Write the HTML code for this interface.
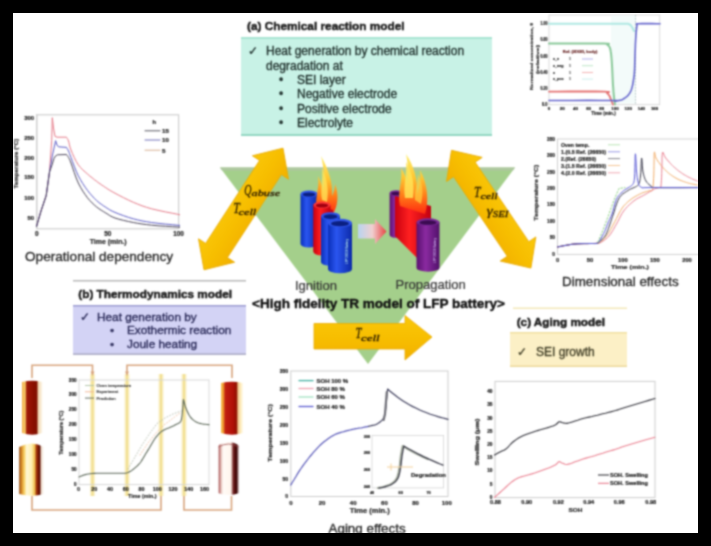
<!DOCTYPE html>
<html><head><meta charset="utf-8">
<style>
html,body{margin:0;padding:0;background:#000;}
body{width:711px;height:546px;position:relative;overflow:hidden;font-family:"Liberation Sans",sans-serif;}
svg{position:absolute;left:0;top:0;}
.t{font-family:"Liberation Sans",sans-serif;}
.s{font-family:"Liberation Serif",serif;font-style:italic;}
</style></head>
<body>

<svg width="711" height="546" viewBox="0 0 711 546">
<defs>
  <linearGradient id="arrG" x1="0" y1="0" x2="0" y2="1">
    <stop offset="0" stop-color="#fac80a"/>
    <stop offset="0.5" stop-color="#f7be00"/>
    <stop offset="1" stop-color="#f2b000"/>
  </linearGradient>
  <linearGradient id="midArr" x1="0" y1="0" x2="1" y2="0">
    <stop offset="0" stop-color="#b8d4f0"/>
    <stop offset="0.5" stop-color="#f0d0d0"/>
    <stop offset="1" stop-color="#e84040"/>
  </linearGradient>
  <linearGradient id="blueCyl" x1="0" y1="0" x2="1" y2="0">
    <stop offset="0" stop-color="#0a2fb8"/>
    <stop offset="0.35" stop-color="#2a55f0"/>
    <stop offset="1" stop-color="#0c2aa8"/>
  </linearGradient>
  <linearGradient id="redCyl" x1="0" y1="0" x2="1" y2="0">
    <stop offset="0" stop-color="#c80010"/>
    <stop offset="0.4" stop-color="#ff2020"/>
    <stop offset="1" stop-color="#c00010"/>
  </linearGradient>
  <linearGradient id="purCyl" x1="0" y1="0" x2="1" y2="0">
    <stop offset="0" stop-color="#5a1070"/>
    <stop offset="0.4" stop-color="#8a2aa0"/>
    <stop offset="1" stop-color="#50106a"/>
  </linearGradient>
  <linearGradient id="flame" x1="0" y1="1" x2="0" y2="0">
    <stop offset="0" stop-color="#ff2a10"/>
    <stop offset="0.3" stop-color="#ff7a18"/>
    <stop offset="0.6" stop-color="#ffc430"/>
    <stop offset="1" stop-color="#fff070"/>
  </linearGradient>
  <filter id="soft" x="0" y="0" width="711" height="546" filterUnits="userSpaceOnUse" color-interpolation-filters="sRGB">
    <feConvolveMatrix order="5" kernelMatrix="0.00087 0.00695 0.01388 0.00695 0.00087 0.00695 0.05540 0.11068 0.05540 0.00695 0.01388 0.11068 0.22111 0.11068 0.01388 0.00695 0.05540 0.11068 0.05540 0.00695 0.00087 0.00695 0.01388 0.00695 0.00087" divisor="1" edgeMode="duplicate" preserveAlpha="true"/>
  </filter>
</defs>

<g filter="url(#soft)">
<rect x="0" y="0" width="711" height="546" fill="#fff"/>
<!-- ===== Triangle ===== -->
<polygon points="220,167.6 515,167.6 368,364" fill="#a4cf8b"/>
<polygon points="220,167.6 515,167.6 513,170.6 222,170.6" fill="#adc69f"/>

<!-- ===== (a) Chemical reaction model ===== -->
<text x="247" y="30" class="t" font-size="11.8" font-weight="bold" fill="#1a1a1a" stroke="#1a1a1a" stroke-width="0.45" textLength="157.5" lengthAdjust="spacingAndGlyphs">(a) Chemical reaction model</text>
<rect x="241" y="37" width="251" height="99" fill="#c8f2e6"/>
<rect x="241" y="37" width="251" height="2" fill="#a8e4d2"/>
<rect x="241" y="134" width="251" height="2" fill="#92d6c2"/>
<g class="t" font-size="12" fill="#22332f" stroke="#22332f" stroke-width="0.35">
  <text x="248" y="55">&#10003;</text>
  <text x="266" y="55">Heat generation by chemical reaction</text>
  <text x="266" y="70">degradation at</text>
  <text x="279" y="84">&#8226;</text><text x="297" y="84">SEI layer</text>
  <text x="279" y="98">&#8226;</text><text x="297" y="98">Negative electrode</text>
  <text x="279" y="112.5">&#8226;</text><text x="297" y="112.5">Positive electrode</text>
  <text x="279" y="126.5">&#8226;</text><text x="297" y="126.5">Electrolyte</text>
</g>

<!-- ===== (b) Thermodynamics model ===== -->
<rect x="73" y="280" width="173" height="1.5" fill="#b8b8b8"/>
<text x="78.3" y="298" class="t" font-size="11.6" font-weight="bold" fill="#1a1a1a" stroke="#1a1a1a" stroke-width="0.45" textLength="153.7" lengthAdjust="spacingAndGlyphs">(b) Thermodynamics model</text>
<rect x="73" y="305" width="173" height="50" fill="#d3d3f5"/>
<rect x="73" y="305" width="173" height="1.5" fill="#9c9cd0"/>
<rect x="73" y="353.3" width="173" height="1.7" fill="#b0b0c8"/>
<g class="t" font-size="11.8" fill="#2a2a58" stroke="#2a2a58" stroke-width="0.35">
  <text x="80" y="320.5">&#10003;</text>
  <text x="97" y="320.5">Heat generation by</text>
  <text x="110" y="334">&#8226;</text><text x="127" y="334">Exothermic reaction</text>
  <text x="110" y="348">&#8226;</text><text x="127" y="348">Joule heating</text>
</g>

<!-- ===== (c) Aging model ===== -->
<rect x="513" y="307.5" width="114" height="1.5" fill="#f3e8b8"/>
<text x="516.7" y="325.5" class="t" font-size="11.5" font-weight="bold" fill="#1a1a1a" stroke="#1a1a1a" stroke-width="0.45" textLength="88.3" lengthAdjust="spacingAndGlyphs">(c) Aging model</text>
<rect x="510" y="332" width="117" height="35" fill="#fcf0c6"/>
<rect x="510" y="332" width="117" height="1.5" fill="#f1dfa0"/>
<rect x="510" y="365.5" width="117" height="1.5" fill="#ecd89a"/>
<g class="t" font-size="12" fill="#45422a" stroke="#45422a" stroke-width="0.35">
  <text x="517" y="355.5">&#10003;</text>
  <text x="536" y="355.5">SEI growth</text>
</g>

<!-- ===== Arrows ===== -->
<g transform="translate(243.5,209) rotate(-57)">
  <path d="M-72.5,0 L-49.5,-21.5 L-49.5,-13 L49.5,-13 L49.5,-21.5 L72.5,0 L49.5,21.5 L49.5,13 L-49.5,13 L-49.5,21.5 Z" fill="url(#arrG)" stroke="#e8aa00" stroke-width="0.8"/>
</g>
<g transform="translate(491.2,209.2) rotate(56)">
  <path d="M-71,0 L-48,-21.5 L-48,-13 L48,-13 L48,-21.5 L71,0 L48,21.5 L48,13 L-48,13 L-48,21.5 Z" fill="url(#arrG)" stroke="#e8aa00" stroke-width="0.8"/>
</g>
<path d="M314,323.5 L405,323.5 L405,315.5 L432,337 L405,360 L405,349 L314,349 Z" fill="url(#arrG)" stroke="#e8aa00" stroke-width="0.8"/>

<!-- arrow labels -->
<g class="s" fill="#2e1e00" font-weight="normal" stroke="#2e1e00" stroke-width="0.3">
  <text x="244.3" y="194.5" font-size="15" textLength="7.2" lengthAdjust="spacingAndGlyphs">Q</text><text x="251.6" y="196" font-size="8" textLength="28.5" lengthAdjust="spacingAndGlyphs">abuse</text>
  <text x="233.3" y="212.8" font-size="14.5" textLength="6.5" lengthAdjust="spacingAndGlyphs">T</text><text x="238.5" y="215" font-size="8" textLength="17.8" lengthAdjust="spacingAndGlyphs">cell</text>
  <text x="474" y="197.2" font-size="14.5" textLength="6.5" lengthAdjust="spacingAndGlyphs">T</text><text x="480.4" y="199" font-size="8" textLength="17.3" lengthAdjust="spacingAndGlyphs">cell</text>
  <text x="486.8" y="215" font-size="13" textLength="6" lengthAdjust="spacingAndGlyphs">&#947;</text><text x="492.8" y="217" font-size="9" textLength="15.6" lengthAdjust="spacingAndGlyphs">SEI</text>
  <text x="355.6" y="337.6" font-size="14.5" textLength="6" lengthAdjust="spacingAndGlyphs">T</text><text x="361" y="340.8" font-size="8" textLength="18.7" lengthAdjust="spacingAndGlyphs">cell</text>
</g>

<!-- ===== Center labels ===== -->
<text x="295" y="289.5" class="t" font-size="13" fill="#333" stroke="#333" stroke-width="0.2">Ignition</text>
<text x="395.5" y="289" class="t" font-size="13" fill="#333" stroke="#333" stroke-width="0.2">Propagation</text>
<text x="252" y="308" class="t" font-size="13.3" font-weight="bold" fill="#111" stroke="#111" stroke-width="0.4" textLength="253" lengthAdjust="spacingAndGlyphs">&lt;High fidelity TR model of LFP battery&gt;</text>

<!-- ===== Bottom text labels ===== -->
<g id="c1">
<rect x="36.8" y="114.8" width="141.8" height="114" fill="none" stroke="#cfcfcf" stroke-width="1.2"/>
<line x1="36.8" y1="114.5" x2="36.8" y2="228.8" stroke="#bbb" stroke-width="0.8" stroke-dasharray="1,1"/>
<text x="34.2" y="120.2" font-size="6" text-anchor="end" fill="#1e1e1e" stroke="#1e1e1e" stroke-width="0.22" font-weight="bold" class="t" >300</text>
<text x="34.2" y="139.7" font-size="6" text-anchor="end" fill="#1e1e1e" stroke="#1e1e1e" stroke-width="0.22" font-weight="bold" class="t" >250</text>
<text x="34.2" y="159.7" font-size="6" text-anchor="end" fill="#1e1e1e" stroke="#1e1e1e" stroke-width="0.22" font-weight="bold" class="t" >200</text>
<text x="34.2" y="179.2" font-size="6" text-anchor="end" fill="#1e1e1e" stroke="#1e1e1e" stroke-width="0.22" font-weight="bold" class="t" >150</text>
<text x="34.2" y="199.7" font-size="6" text-anchor="end" fill="#1e1e1e" stroke="#1e1e1e" stroke-width="0.22" font-weight="bold" class="t" >100</text>
<text x="34.2" y="220.2" font-size="6" text-anchor="end" fill="#1e1e1e" stroke="#1e1e1e" stroke-width="0.22" font-weight="bold" class="t" >50</text>
<text x="18.3" y="163.6" font-size="5.6" text-anchor="middle" fill="#2a2a2a" stroke="#2a2a2a" stroke-width="0.22" font-weight="bold" class="t" transform="rotate(-90 18.3 163.6)" textLength="50" lengthAdjust="spacingAndGlyphs">Temperature (°C)</text>
<text x="36.8" y="236.3" font-size="6.4" text-anchor="middle" fill="#1e1e1e" stroke="#1e1e1e" stroke-width="0.22" font-weight="bold" class="t" >0</text>
<text x="107.7" y="236.3" font-size="6.4" text-anchor="middle" fill="#1e1e1e" stroke="#1e1e1e" stroke-width="0.22" font-weight="bold" class="t" >50</text>
<text x="178.6" y="236.3" font-size="6.4" text-anchor="middle" fill="#1e1e1e" stroke="#1e1e1e" stroke-width="0.22" font-weight="bold" class="t" >100</text>
<text x="108.2" y="244" font-size="6.6" text-anchor="middle" fill="#2a2a2a" stroke="#2a2a2a" stroke-width="0.22" font-weight="bold" class="t" textLength="37" lengthAdjust="spacingAndGlyphs">Time (min.)</text>
<polyline points="36.5,226.5 41.0,211.0 46.2,195.6 49.5,172.0 51.7,140.7 52.3,117.7 53.5,128.0 55.0,136.3 57.0,137.2 66.5,137.2 66.8,137.8 67.3,138.5 67.9,139.6 68.5,141.0 69.0,142.7 69.4,144.8 70.0,147.2 71.0,150.0 72.4,153.4 74.2,157.4 76.2,161.4 78.3,164.8 80.5,167.5 82.8,169.9 85.2,172.0 87.5,174.0 89.8,176.0 92.1,177.8 94.3,179.6 96.6,181.3 98.9,183.0 101.2,184.6 103.5,186.2 105.8,187.7 107.9,189.1 109.8,190.3 112.1,191.6 115.0,193.2 118.9,195.3 123.6,197.7 128.5,200.1 133.3,202.3 137.7,204.1 142.0,205.8 146.5,207.3 151.6,208.8 158.0,210.3 165.4,211.9 172.3,213.2 177.2,214.2 179.5,214.7 179.9,214.7 179.6,214.6 179.5,214.6" fill="none" stroke="#e57a88" stroke-width="1.0" stroke-linejoin="round" stroke-linecap="round" />
<polyline points="36.5,226.5 41.0,211.0 46.2,195.6 49.5,172.0 52.5,155.0 55.6,140.7 57.0,145.0 58.5,146.8 66.5,147.4 66.8,148.0 67.3,148.8 67.9,149.8 68.5,151.0 69.0,152.1 69.4,153.3 70.0,155.0 71.0,157.5 72.4,161.3 74.2,166.1 76.2,171.2 78.3,175.8 80.5,179.8 82.8,183.6 85.2,187.2 87.5,190.4 89.8,193.3 92.1,195.9 94.3,198.3 96.6,200.5 98.9,202.5 101.2,204.2 103.5,205.8 105.8,207.3 107.9,208.7 109.8,209.9 112.1,211.1 115.0,212.4 118.9,214.0 123.6,215.7 128.5,217.4 133.3,218.8 137.7,219.9 142.0,220.9 146.5,221.7 151.6,222.5 158.0,223.3 165.4,224.1 172.3,224.7 177.2,225.2 179.5,225.4 179.9,225.5 179.6,225.4 179.5,225.4" fill="none" stroke="#5c5cc4" stroke-width="1.0" stroke-linejoin="round" stroke-linecap="round" />
<polyline points="36.5,226.5 41.0,211.0 46.2,195.6 49.5,172.0 52.0,165.0 54.0,158.5 55.5,156.0 57.5,154.8 66.5,154.5 66.8,155.0 67.3,155.7 67.9,156.5 68.5,157.5 69.0,158.4 69.4,159.2 70.0,160.5 71.0,163.0 72.4,167.1 74.2,172.4 76.2,178.0 78.3,183.0 80.5,187.2 82.8,191.1 85.2,194.6 87.5,197.8 89.8,200.5 92.1,202.9 94.3,205.0 96.6,206.9 98.9,208.7 101.2,210.2 103.5,211.6 105.8,213.0 107.9,214.3 109.8,215.6 112.1,216.8 115.0,218.0 118.9,219.2 123.6,220.4 128.5,221.5 133.3,222.5 137.7,223.3 142.0,224.0 146.5,224.6 151.6,225.2 158.0,225.8 165.4,226.3 172.3,226.7 177.2,227.0 179.5,227.2 179.9,227.2 179.6,227.2 179.5,227.2" fill="none" stroke="#4a4458" stroke-width="1.0" stroke-linejoin="round" stroke-linecap="round" />
<text x="154.3" y="124.3" font-size="6" text-anchor="middle" fill="#1e1e1e" stroke="#1e1e1e" stroke-width="0.22" font-weight="bold" class="t" >h</text>
<line x1="144.6" y1="130.8" x2="160.4" y2="130.8" stroke="#555560" stroke-width="1.0"/>
<text x="162" y="133.10000000000002" font-size="6.2" text-anchor="start" fill="#1e1e1e" stroke="#1e1e1e" stroke-width="0.22" font-weight="bold" class="t" >15</text>
<line x1="144.6" y1="140" x2="160.4" y2="140" stroke="#7070b8" stroke-width="1.0"/>
<text x="162" y="142.3" font-size="6.2" text-anchor="start" fill="#1e1e1e" stroke="#1e1e1e" stroke-width="0.22" font-weight="bold" class="t" >10</text>
<line x1="144.6" y1="150.2" x2="160.4" y2="150.2" stroke="#d8b090" stroke-width="1.0"/>
<text x="162" y="152.5" font-size="6.2" text-anchor="start" fill="#1e1e1e" stroke="#1e1e1e" stroke-width="0.22" font-weight="bold" class="t" >5</text>
</g>
<g id="c2">
<rect x="549" y="15" width="110.7" height="89.7" fill="none" stroke="#d0d0d0" stroke-width="0.8"/>
<text x="547.5" y="25.1" font-size="4.6" text-anchor="end" fill="#1a1a1a" stroke="#1a1a1a" stroke-width="0.22" font-weight="bold" class="t" textLength="7" lengthAdjust="spacingAndGlyphs">1.00</text>
<text x="547.5" y="41.2" font-size="4.6" text-anchor="end" fill="#1a1a1a" stroke="#1a1a1a" stroke-width="0.22" font-weight="bold" class="t" textLength="7" lengthAdjust="spacingAndGlyphs">0.80</text>
<text x="547.5" y="57.6" font-size="4.6" text-anchor="end" fill="#1a1a1a" stroke="#1a1a1a" stroke-width="0.22" font-weight="bold" class="t" textLength="7" lengthAdjust="spacingAndGlyphs">0.60</text>
<text x="547.5" y="73.6" font-size="4.6" text-anchor="end" fill="#1a1a1a" stroke="#1a1a1a" stroke-width="0.22" font-weight="bold" class="t" textLength="7" lengthAdjust="spacingAndGlyphs">0.40</text>
<text x="547.5" y="89.6" font-size="4.6" text-anchor="end" fill="#1a1a1a" stroke="#1a1a1a" stroke-width="0.22" font-weight="bold" class="t" textLength="7" lengthAdjust="spacingAndGlyphs">0.20</text>
<text x="547.5" y="105.6" font-size="4.6" text-anchor="end" fill="#1a1a1a" stroke="#1a1a1a" stroke-width="0.22" font-weight="bold" class="t" textLength="5.5" lengthAdjust="spacingAndGlyphs">0.0</text>
<text x="549.0" y="110" font-size="4.4" text-anchor="middle" fill="#1e1e1e" stroke="#1e1e1e" stroke-width="0.22" font-weight="bold" class="t" >0</text>
<text x="562.2" y="110" font-size="4.4" text-anchor="middle" fill="#1e1e1e" stroke="#1e1e1e" stroke-width="0.22" font-weight="bold" class="t" >20</text>
<text x="575.4" y="110" font-size="4.4" text-anchor="middle" fill="#1e1e1e" stroke="#1e1e1e" stroke-width="0.22" font-weight="bold" class="t" >40</text>
<text x="588.6" y="110" font-size="4.4" text-anchor="middle" fill="#1e1e1e" stroke="#1e1e1e" stroke-width="0.22" font-weight="bold" class="t" >60</text>
<text x="601.8" y="110" font-size="4.4" text-anchor="middle" fill="#1e1e1e" stroke="#1e1e1e" stroke-width="0.22" font-weight="bold" class="t" >80</text>
<text x="615.0" y="110" font-size="4.4" text-anchor="middle" fill="#1e1e1e" stroke="#1e1e1e" stroke-width="0.22" font-weight="bold" class="t" >100</text>
<text x="628.2" y="110" font-size="4.4" text-anchor="middle" fill="#1e1e1e" stroke="#1e1e1e" stroke-width="0.22" font-weight="bold" class="t" >120</text>
<text x="641.4" y="110" font-size="4.4" text-anchor="middle" fill="#1e1e1e" stroke="#1e1e1e" stroke-width="0.22" font-weight="bold" class="t" >140</text>
<text x="654.6" y="110" font-size="4.4" text-anchor="middle" fill="#1e1e1e" stroke="#1e1e1e" stroke-width="0.22" font-weight="bold" class="t" >160</text>
<text x="603.5" y="115" font-size="4.6" text-anchor="middle" fill="#2a2a2a" stroke="#2a2a2a" stroke-width="0.22" font-weight="bold" class="t" >Time (min.)</text>
<text x="532.5" y="56.5" font-size="4.4" text-anchor="middle" fill="#333" stroke="#333" stroke-width="0.22" font-weight="bold" class="t" transform="rotate(-90 532.5 56.5)" textLength="67" lengthAdjust="spacingAndGlyphs">Normalized concentration, θ</text>
<text x="538.6" y="59.5" font-size="4.4" text-anchor="middle" fill="#333" stroke="#333" stroke-width="0.22" font-weight="bold" class="t" transform="rotate(-90 538.6 59.5)" textLength="29" lengthAdjust="spacingAndGlyphs">(relative)</text>
<rect x="611" y="15.5" width="25" height="88" fill="#f3fbfa"/>
<line x1="635.5" y1="15" x2="635.5" y2="104.7" stroke="#9aa" stroke-width="0.7" stroke-dasharray="1.5,1.5"/>
<polyline points="549.0,23.7 628.0,23.7 630.5,25.0 632.6,28.0 634.0,31.0" fill="none" stroke="#aee8e2" stroke-width="2.0" stroke-linejoin="round" stroke-linecap="round" />
<polyline points="549.0,43.6 557.3,43.6 569.5,43.6 583.1,43.5 595.4,43.5 604.0,43.6 607.9,43.7 609.0,43.8 608.3,44.0 607.3,44.2 607.0,44.5 607.5,44.8 608.1,45.2 608.6,45.7 609.1,46.3 609.5,47.0 609.9,47.9 610.2,48.9 610.5,50.0 610.7,51.4 611.0,53.0 611.2,54.9 611.4,57.0 611.6,59.3 611.8,62.0 612.0,65.0 612.2,68.6 612.4,72.7 612.6,77.0 612.8,81.2 613.0,85.0 613.3,88.5 613.5,91.9 613.8,95.0 614.1,97.8 614.3,100.0 614.5,101.6 614.7,102.8 614.8,103.5 614.9,104.1 615.0,104.5" fill="none" stroke="#88c898" stroke-width="2.0" stroke-linejoin="round" stroke-linecap="round" />
<polyline points="549.0,91.6 557.3,91.6 569.5,91.5 583.1,91.5 595.4,91.5 604.0,91.6 607.9,91.8 609.0,92.0 608.3,92.3 607.3,92.6 607.0,93.0 607.5,93.5 608.1,94.0 608.5,94.5 609.0,95.2 609.5,96.0 610.0,97.0 610.4,98.1 610.9,99.4 611.3,100.5 611.7,101.5 612.0,102.3 612.3,103.0 612.6,103.6 612.8,104.1 613.0,104.5" fill="none" stroke="#e47070" stroke-width="1.8" stroke-linejoin="round" stroke-linecap="round" />
<polyline points="549.0,100.5 558.5,100.5 572.5,100.5 588.1,100.4 602.2,100.5 612.0,100.5 616.4,100.6 617.5,100.8 616.7,101.0 615.4,101.1 615.0,101.2 615.6,101.2 616.2,101.1 616.7,100.9 617.3,100.8 618.0,100.6 618.7,100.5 619.5,100.4 620.3,100.3 621.1,100.1 622.0,99.7 623.0,99.2 624.1,98.5 625.3,97.7 626.4,96.9 627.4,96.0 628.3,95.1 629.0,94.1 629.8,93.0 630.4,91.8 631.0,90.6 631.5,89.3 631.9,87.9 632.3,86.4 632.7,84.8 633.0,83.0 633.3,81.2 633.6,79.2 633.9,77.1 634.2,74.9 634.4,72.3 634.6,69.4 634.7,66.2 634.8,62.8 634.9,59.3 635.0,55.8 635.1,52.2 635.3,48.3 635.4,44.4 635.6,40.8 635.8,37.5 636.0,34.6 636.2,31.8 636.5,29.3 636.7,27.2 637.0,25.6 636.9,24.5 636.6,24.0 636.4,23.8 636.8,23.8 638.4,23.7 641.8,23.6 646.6,23.6 651.9,23.6 656.7,23.7 660.0,23.7" fill="none" stroke="#6464cc" stroke-width="1.6" stroke-linejoin="round" stroke-linecap="round" />
<text x="580" y="53" font-size="4" text-anchor="middle" fill="#6a2828" stroke="#6a2828" stroke-width="0.22" font-weight="bold" class="t" >Ref. (2D/3D, body)</text>
<text x="553" y="60.2" font-size="3.6" text-anchor="start" fill="#2a2a2a" stroke="#2a2a2a" stroke-width="0.22" font-weight="bold" class="t" >c_e</text>
<text x="569" y="60.2" font-size="3.6" text-anchor="start" fill="#666" stroke="#666" stroke-width="0.22" font-weight="bold" class="t" >1</text>
<line x1="582" y1="59.0" x2="593" y2="59.0" stroke="#3a3ad0" stroke-width="0.8" opacity="0.5"/>
<text x="553" y="66.9" font-size="3.6" text-anchor="start" fill="#2a2a2a" stroke="#2a2a2a" stroke-width="0.22" font-weight="bold" class="t" >c_neg</text>
<text x="569" y="66.9" font-size="3.6" text-anchor="start" fill="#666" stroke="#666" stroke-width="0.22" font-weight="bold" class="t" >1</text>
<line x1="582" y1="65.7" x2="593" y2="65.7" stroke="#56c070" stroke-width="0.8" opacity="0.5"/>
<text x="553" y="73.60000000000001" font-size="3.6" text-anchor="start" fill="#2a2a2a" stroke="#2a2a2a" stroke-width="0.22" font-weight="bold" class="t" >c</text>
<text x="569" y="73.60000000000001" font-size="3.6" text-anchor="start" fill="#666" stroke="#666" stroke-width="0.22" font-weight="bold" class="t" >1</text>
<line x1="582" y1="72.4" x2="593" y2="72.4" stroke="#e03030" stroke-width="0.8" opacity="0.5"/>
<text x="553" y="80.3" font-size="3.6" text-anchor="start" fill="#2a2a2a" stroke="#2a2a2a" stroke-width="0.22" font-weight="bold" class="t" >c_pos</text>
<text x="569" y="80.3" font-size="3.6" text-anchor="start" fill="#666" stroke="#666" stroke-width="0.22" font-weight="bold" class="t" >1</text>
<line x1="582" y1="79.1" x2="593" y2="79.1" stroke="#7fd6d0" stroke-width="0.8" opacity="0.5"/>
</g>
<g id="c3">
<rect x="557.5" y="139" width="150" height="115.4" fill="none" stroke="#cccccc" stroke-width="0.9"/>
<text x="555" y="140.7" font-size="4.8" text-anchor="end" fill="#1e1e1e" stroke="#1e1e1e" stroke-width="0.22" font-weight="bold" class="t" >350</text>
<text x="555" y="157.2" font-size="4.8" text-anchor="end" fill="#1e1e1e" stroke="#1e1e1e" stroke-width="0.22" font-weight="bold" class="t" >300</text>
<text x="555" y="173.7" font-size="4.8" text-anchor="end" fill="#1e1e1e" stroke="#1e1e1e" stroke-width="0.22" font-weight="bold" class="t" >250</text>
<text x="555" y="190.0" font-size="4.8" text-anchor="end" fill="#1e1e1e" stroke="#1e1e1e" stroke-width="0.22" font-weight="bold" class="t" >200</text>
<text x="555" y="206.2" font-size="4.8" text-anchor="end" fill="#1e1e1e" stroke="#1e1e1e" stroke-width="0.22" font-weight="bold" class="t" >150</text>
<text x="555" y="222.7" font-size="4.8" text-anchor="end" fill="#1e1e1e" stroke="#1e1e1e" stroke-width="0.22" font-weight="bold" class="t" >100</text>
<text x="555" y="239.39999999999998" font-size="4.8" text-anchor="end" fill="#1e1e1e" stroke="#1e1e1e" stroke-width="0.22" font-weight="bold" class="t" >50</text>
<text x="555" y="255.7" font-size="4.8" text-anchor="end" fill="#1e1e1e" stroke="#1e1e1e" stroke-width="0.22" font-weight="bold" class="t" >0</text>
<text x="557.5" y="261.5" font-size="5.8" text-anchor="middle" fill="#1e1e1e" stroke="#1e1e1e" stroke-width="0.22" font-weight="bold" class="t" >0</text>
<text x="590" y="261.5" font-size="5.8" text-anchor="middle" fill="#1e1e1e" stroke="#1e1e1e" stroke-width="0.22" font-weight="bold" class="t" >50</text>
<text x="622.8" y="261.5" font-size="5.8" text-anchor="middle" fill="#1e1e1e" stroke="#1e1e1e" stroke-width="0.22" font-weight="bold" class="t" >100</text>
<text x="654.8" y="261.5" font-size="5.8" text-anchor="middle" fill="#1e1e1e" stroke="#1e1e1e" stroke-width="0.22" font-weight="bold" class="t" >150</text>
<text x="687" y="261.5" font-size="5.8" text-anchor="middle" fill="#1e1e1e" stroke="#1e1e1e" stroke-width="0.22" font-weight="bold" class="t" >200</text>
<text x="630" y="268.5" font-size="6.2" text-anchor="middle" fill="#2a2a2a" stroke="#2a2a2a" stroke-width="0.22" font-weight="bold" class="t" textLength="38" lengthAdjust="spacingAndGlyphs">Time (min.)</text>
<text x="537.8" y="192.7" font-size="5.6" text-anchor="middle" fill="#2a2a2a" stroke="#2a2a2a" stroke-width="0.22" font-weight="bold" class="t" transform="rotate(-90 537.8 192.7)" textLength="56" lengthAdjust="spacingAndGlyphs">Temperature (°C)</text>
<polyline points="557.5,247.0 558.5,246.8 559.8,246.5 561.5,246.2 563.2,245.8 565.0,245.5 566.8,245.2 568.6,244.9 570.5,244.5 572.6,244.2 575.0,244.0 577.8,243.8 581.0,243.7 584.3,243.6 587.4,243.6 590.0,243.5 592.0,243.5 593.5,243.5 594.8,243.5 595.9,243.4 597.0,243.3 598.0,243.1 598.7,242.9 599.4,242.7 600.1,242.2 601.0,241.5 602.1,240.5 603.4,239.4 604.8,238.0 606.2,236.4 607.6,234.5 609.0,232.3 610.5,229.7 612.0,226.9 613.5,224.0 615.0,221.3 616.4,218.6 617.8,215.8 619.2,213.0 620.7,210.4 622.2,208.0 623.8,205.9 625.5,204.1 627.3,202.4 629.1,200.8 631.0,199.3 633.0,197.9 635.1,196.6 637.3,195.4 639.4,194.3 641.3,193.4 643.1,192.6 644.8,192.1 646.3,191.6 647.8,191.2 649.0,190.8 650.0,190.7 650.8,190.8 651.5,190.9 652.0,190.6 652.5,189.5 652.9,187.6 653.2,185.0 653.4,182.0 653.6,178.6 653.8,175.0 653.9,170.6 654.0,165.3 654.1,159.9 654.1,155.4 654.3,152.6 654.5,151.9 654.7,152.7 655.0,154.3 655.4,156.3 656.0,158.0 656.8,159.4 657.8,161.0 659.0,162.6 660.1,164.2 661.2,165.6 662.3,166.9 663.4,168.1 664.4,169.2 665.5,170.2 666.5,171.3 667.5,172.2 668.6,173.1 669.6,173.9 670.7,174.7 671.8,175.5 672.8,176.2 673.9,176.9 674.9,177.5 676.0,178.1 677.0,178.7 678.0,179.2 679.1,179.7 680.1,180.2 681.2,180.6 682.2,181.0 683.3,181.4 684.4,181.8 685.4,182.1 686.5,182.5 687.5,182.8 688.5,183.1 689.6,183.4 690.6,183.6 691.7,183.9 692.8,184.1 693.9,184.3 695.1,184.6 696.3,184.8 697.3,185.0 698.0,185.1" fill="none" stroke="#f2ac68" stroke-width="1.0" stroke-linejoin="round" stroke-linecap="round" />
<polyline points="557.5,247.0 558.5,246.8 559.8,246.5 561.5,246.2 563.2,245.8 565.0,245.5 566.8,245.2 568.6,244.9 570.5,244.5 572.6,244.2 575.0,244.0 577.8,243.8 581.0,243.7 584.3,243.6 587.4,243.6 590.0,243.5 592.0,243.5 593.5,243.5 594.8,243.4 595.9,243.4 597.0,243.3 598.0,243.2 598.8,243.1 599.6,242.9 600.4,242.6 601.5,242.0 602.8,241.2 604.3,240.2 605.9,239.0 607.5,237.6 609.0,236.0 610.5,234.0 612.0,231.8 613.5,229.3 614.9,226.7 616.4,224.2 617.8,221.6 619.2,218.9 620.6,216.1 622.0,213.5 623.7,211.0 625.5,208.7 627.5,206.5 629.6,204.5 631.8,202.6 634.0,200.8 636.3,199.2 638.7,197.8 641.2,196.6 643.5,195.4 645.7,194.2 647.7,193.0 649.6,191.8 651.4,190.7 653.1,189.8 654.5,189.0 655.7,188.5 656.7,188.2 657.6,188.0 658.3,187.8 659.0,187.6 659.6,187.5 660.0,187.7 660.4,187.7 660.7,187.2 661.0,186.0 661.2,183.7 661.4,180.7 661.6,177.2 661.7,173.5 661.8,170.0 661.9,166.3 662.0,162.1 662.0,158.1 662.2,154.7 662.4,152.6 662.8,152.1 663.2,152.8 663.8,154.1 664.4,155.7 665.0,157.0 665.7,158.0 666.5,159.0 667.4,160.0 668.3,161.1 669.1,162.0 670.0,162.9 670.8,163.8 671.6,164.7 672.4,165.5 673.2,166.3 674.1,167.0 674.9,167.8 675.7,168.5 676.5,169.2 677.4,169.9 678.2,170.5 679.0,171.2 679.9,171.8 680.7,172.4 681.5,172.9 682.3,173.5 683.1,174.0 684.0,174.6 684.8,175.1 685.6,175.5 686.5,176.0 687.3,176.5 688.1,176.9 688.9,177.3 689.8,177.7 690.6,178.1 691.4,178.5 692.2,178.9 693.0,179.3 693.9,179.6 694.8,180.0 695.7,180.3 696.6,180.7 697.4,181.0 698.0,181.2" fill="none" stroke="#ea8090" stroke-width="1.0" stroke-linejoin="round" stroke-linecap="round" />
<polyline points="557.5,247.0 558.5,246.8 559.8,246.5 561.5,246.2 563.2,245.8 565.0,245.5 566.8,245.2 568.6,244.9 570.5,244.5 572.6,244.2 575.0,244.0 577.8,243.8 581.0,243.7 584.3,243.6 587.4,243.6 590.0,243.5 592.0,243.5 593.5,243.5 594.8,243.5 596.0,243.5 597.0,243.3 597.9,243.0 598.6,242.7 599.1,242.3 599.7,241.8 600.5,241.0 601.5,240.0 602.6,238.9 603.8,237.6 605.0,236.1 606.0,234.5 606.9,232.6 607.7,230.6 608.5,228.4 609.3,226.1 610.0,224.0 610.7,222.1 611.3,220.3 611.9,218.4 612.6,216.4 613.4,214.0 614.4,211.0 615.4,207.5 616.6,203.9 617.9,200.6 619.3,197.8 620.9,195.7 622.8,194.0 624.7,192.6 626.5,191.5 628.0,190.5 629.2,189.7 630.2,189.2 631.1,188.8 632.0,188.5 633.0,188.0 634.1,187.5 635.3,187.0 636.5,186.4 637.5,185.7 638.4,184.7 639.0,183.5 639.5,182.1 639.9,180.4 640.2,178.4 640.5,176.0 640.8,172.5 641.0,167.9 641.2,163.3 641.4,159.7 641.6,158.0 641.8,158.8 642.1,161.5 642.3,165.2 642.6,169.0 643.0,172.0 643.5,174.2 644.0,176.2 644.6,177.9 645.2,179.5 646.0,181.0 646.9,182.3 647.9,183.5 648.9,184.4 650.0,185.3 651.0,186.0 651.4,186.6 651.2,187.0 651.3,187.2 652.6,187.4 656.0,187.6 662.7,187.7 672.2,187.7 682.4,187.7 691.7,187.6 698.0,187.6" fill="none" stroke="#3a3a4c" stroke-width="1.0" stroke-linejoin="round" stroke-linecap="round" />
<polyline points="557.5,247.0 558.5,246.8 559.8,246.5 561.5,246.2 563.2,245.8 565.0,245.5 566.8,245.2 568.6,244.9 570.5,244.5 572.6,244.2 575.0,244.0 577.8,243.8 581.0,243.7 584.3,243.6 587.4,243.6 590.0,243.5 592.0,243.5 593.6,243.5 594.9,243.6 596.0,243.5 597.0,243.3 597.8,242.9 598.4,242.5 598.9,241.8 599.4,241.0 600.0,240.0 600.9,238.6 601.8,237.0 602.8,235.1 603.8,233.3 604.7,231.5 605.4,229.8 606.1,228.1 606.7,226.4 607.3,224.7 608.0,223.0 608.7,221.3 609.5,219.7 610.3,218.0 611.2,216.2 612.0,214.0 612.8,211.3 613.7,208.2 614.5,204.9 615.4,201.9 616.4,199.3 617.5,197.3 618.7,195.7 619.9,194.3 621.1,193.1 622.2,192.0 623.2,191.1 624.2,190.3 625.1,189.7 626.0,189.2 627.0,188.5 628.1,187.8 629.3,187.1 630.5,186.4 631.6,185.7 632.5,184.7 633.1,183.8 633.6,183.1 633.9,182.1 634.2,180.5 634.5,178.0 634.7,173.6 634.9,167.5 635.1,161.3 635.2,156.2 635.4,153.8 635.6,154.8 635.8,158.3 636.1,163.1 636.3,168.1 636.6,172.0 636.9,174.9 637.2,177.6 637.6,180.1 638.0,182.2 638.5,184.0 639.1,185.3 639.7,186.2 640.3,186.8 641.1,187.2 642.0,187.6 642.3,187.8 642.1,187.9 642.3,187.8 643.9,187.7 648.0,187.6 656.0,187.6 667.2,187.6 679.5,187.6 690.5,187.6 698.0,187.6" fill="none" stroke="#5858d4" stroke-width="1.0" stroke-linejoin="round" stroke-linecap="round" />
<polyline points="598.0,242.0 603.0,230.0 609.0,214.0 614.0,200.0 619.0,188.5 625.0,187.6" fill="none" stroke="#8ad080" stroke-width="1.0" stroke-linejoin="round" stroke-linecap="round" stroke-dasharray="1.5,2"/>
<text x="561" y="146.8" font-size="5.3" text-anchor="start" fill="#1e1e1e" stroke="#1e1e1e" stroke-width="0.22" font-weight="bold" class="t" textLength="28.4" lengthAdjust="spacingAndGlyphs">Oven temp.</text>
<line x1="608" y1="144.8" x2="620" y2="144.8" stroke="#8ad080" stroke-width="1" opacity="0.6"/>
<text x="561" y="153.8" font-size="5.3" text-anchor="start" fill="#1e1e1e" stroke="#1e1e1e" stroke-width="0.22" font-weight="bold" class="t" textLength="45" lengthAdjust="spacingAndGlyphs">1.(0.5 Ref. (26650)</text>
<line x1="608" y1="151.8" x2="620" y2="151.8" stroke="#5050d0" stroke-width="1" opacity="0.6"/>
<text x="561" y="160.6" font-size="5.3" text-anchor="start" fill="#1e1e1e" stroke="#1e1e1e" stroke-width="0.22" font-weight="bold" class="t" textLength="35" lengthAdjust="spacingAndGlyphs">2.(Ref. (26650)</text>
<line x1="608" y1="158.6" x2="620" y2="158.6" stroke="#303040" stroke-width="1" opacity="0.6"/>
<text x="561" y="167.5" font-size="5.3" text-anchor="start" fill="#1e1e1e" stroke="#1e1e1e" stroke-width="0.22" font-weight="bold" class="t" textLength="45" lengthAdjust="spacingAndGlyphs">3.(1.5 Ref. (26650)</text>
<line x1="608" y1="165.5" x2="620" y2="165.5" stroke="#f0a050" stroke-width="1" opacity="0.6"/>
<text x="561" y="174.8" font-size="5.3" text-anchor="start" fill="#1e1e1e" stroke="#1e1e1e" stroke-width="0.22" font-weight="bold" class="t" textLength="45" lengthAdjust="spacingAndGlyphs">4.(2.0 Ref. (26650)</text>
<line x1="608" y1="172.8" x2="620" y2="172.8" stroke="#e87080" stroke-width="1" opacity="0.6"/>
</g>
<g id="c5">
<rect x="290.8" y="371" width="157.2" height="125.5" fill="none" stroke="#cdcdcd" stroke-width="1"/>
<text x="288" y="372.8" font-size="5" text-anchor="end" fill="#1e1e1e" stroke="#1e1e1e" stroke-width="0.22" font-weight="bold" class="t" >350</text>
<text x="288" y="390.6" font-size="5" text-anchor="end" fill="#1e1e1e" stroke="#1e1e1e" stroke-width="0.22" font-weight="bold" class="t" >300</text>
<text x="288" y="408.5" font-size="5" text-anchor="end" fill="#1e1e1e" stroke="#1e1e1e" stroke-width="0.22" font-weight="bold" class="t" >250</text>
<text x="288" y="426.8" font-size="5" text-anchor="end" fill="#1e1e1e" stroke="#1e1e1e" stroke-width="0.22" font-weight="bold" class="t" >200</text>
<text x="288" y="444.8" font-size="5" text-anchor="end" fill="#1e1e1e" stroke="#1e1e1e" stroke-width="0.22" font-weight="bold" class="t" >150</text>
<text x="288" y="462.8" font-size="5" text-anchor="end" fill="#1e1e1e" stroke="#1e1e1e" stroke-width="0.22" font-weight="bold" class="t" >100</text>
<text x="288" y="480.8" font-size="5" text-anchor="end" fill="#1e1e1e" stroke="#1e1e1e" stroke-width="0.22" font-weight="bold" class="t" >50</text>
<text x="288" y="498.3" font-size="5" text-anchor="end" fill="#1e1e1e" stroke="#1e1e1e" stroke-width="0.22" font-weight="bold" class="t" >0</text>
<text x="290.8" y="505" font-size="6" text-anchor="middle" fill="#1e1e1e" stroke="#1e1e1e" stroke-width="0.22" font-weight="bold" class="t" >0</text>
<text x="322.0" y="505" font-size="6" text-anchor="middle" fill="#1e1e1e" stroke="#1e1e1e" stroke-width="0.22" font-weight="bold" class="t" >20</text>
<text x="353.2" y="505" font-size="6" text-anchor="middle" fill="#1e1e1e" stroke="#1e1e1e" stroke-width="0.22" font-weight="bold" class="t" >40</text>
<text x="384.4" y="505" font-size="6" text-anchor="middle" fill="#1e1e1e" stroke="#1e1e1e" stroke-width="0.22" font-weight="bold" class="t" >60</text>
<text x="415.6" y="505" font-size="6" text-anchor="middle" fill="#1e1e1e" stroke="#1e1e1e" stroke-width="0.22" font-weight="bold" class="t" >80</text>
<text x="446.8" y="505" font-size="6" text-anchor="middle" fill="#1e1e1e" stroke="#1e1e1e" stroke-width="0.22" font-weight="bold" class="t" >100</text>
<text x="369.8" y="512.5" font-size="6.4" text-anchor="middle" fill="#2a2a2a" stroke="#2a2a2a" stroke-width="0.22" font-weight="bold" class="t" textLength="40" lengthAdjust="spacingAndGlyphs">Time (min.)</text>
<text x="271.8" y="433" font-size="5.8" text-anchor="middle" fill="#2a2a2a" stroke="#2a2a2a" stroke-width="0.22" font-weight="bold" class="t" transform="rotate(-90 271.8 433)" textLength="57.6" lengthAdjust="spacingAndGlyphs">Temperature (°C)</text>
<polyline points="290.8,485.0 291.3,484.1 292.1,482.8 293.0,481.3 294.0,479.7 295.0,478.0 296.1,476.3 297.2,474.4 298.4,472.4 299.7,470.4 301.0,468.5 302.3,466.6 303.7,464.6 305.2,462.7 306.6,460.8 308.0,459.0 309.4,457.2 310.8,455.5 312.2,453.8 313.6,452.2 315.0,450.6 316.4,449.1 317.8,447.6 319.2,446.1 320.6,444.8 322.0,443.5 323.4,442.3 324.7,441.2 326.1,440.2 327.4,439.2 328.7,438.3 330.0,437.4 331.2,436.6 332.4,435.9 333.7,435.2 335.0,434.5 336.4,433.9 337.9,433.4 339.4,432.9 340.9,432.4 342.4,432.0 343.9,431.6 345.5,431.1 347.1,430.7 348.6,430.3 350.0,430.0 351.3,429.7 352.5,429.4 353.6,429.2 354.8,428.9 356.0,428.7 357.3,428.5 358.7,428.2 360.2,428.0 361.6,427.8 363.0,427.5 364.4,427.2 365.8,426.9 367.3,426.6 368.7,426.3" fill="none" stroke="#5858b8" stroke-width="1.2" stroke-linejoin="round" stroke-linecap="round" />
<polyline points="368.7,426.3 370.0,426.0 371.3,425.7 372.6,425.4 373.8,425.2 374.9,424.9 376.0,424.5 376.9,424.1 377.8,423.6 378.6,423.1 379.3,422.5 380.0,422.0 380.7,421.5 381.3,420.9 381.9,420.4 382.5,419.7 383.0,419.0 383.5,418.3 383.9,417.6 384.3,416.7 384.6,415.6 385.0,414.0 385.3,411.7 385.7,408.9 386.0,405.8 386.2,402.8 386.5,400.0 386.8,397.4 387.0,394.9 387.3,392.5 387.5,390.4 387.6,389.0 390.1,391.2 392.6,393.3 395.2,395.3 397.7,397.2 400.2,399.0 402.7,400.7 405.2,402.3 407.7,403.8 410.2,405.2 412.8,406.6 415.3,407.8 417.8,409.0 420.3,410.2 422.8,411.3 425.4,412.3 427.9,413.2 430.4,414.2 432.9,415.0 435.4,415.8 437.9,416.6 440.4,417.3 443.0,418.0 445.5,418.7 448.0,419.3" fill="none" stroke="#3c3c5a" stroke-width="1.2" stroke-linejoin="round" stroke-linecap="round" />
<polyline points="383.6,420.0 385.0,414.0 386.0,402.0 386.8,392.0" fill="none" stroke="#707078" stroke-width="2.2" stroke-linejoin="round" stroke-linecap="round" />
<line x1="298.5" y1="380.6" x2="313.5" y2="380.6" stroke="#40b0a0" stroke-width="1.3"/>
<text x="316.5" y="382.70000000000005" font-size="6" text-anchor="start" fill="#1e1e1e" stroke="#1e1e1e" stroke-width="0.22" font-weight="bold" class="t" >SOH 100 %</text>
<line x1="298.5" y1="388.5" x2="313.5" y2="388.5" stroke="#f0a0b0" stroke-width="1.3"/>
<text x="316.5" y="390.6" font-size="6" text-anchor="start" fill="#1e1e1e" stroke="#1e1e1e" stroke-width="0.22" font-weight="bold" class="t" >SOH 80 %</text>
<line x1="298.5" y1="397" x2="313.5" y2="397" stroke="#a0e0c0" stroke-width="1.3"/>
<text x="316.5" y="399.1" font-size="6" text-anchor="start" fill="#1e1e1e" stroke="#1e1e1e" stroke-width="0.22" font-weight="bold" class="t" >SOH 60 %</text>
<line x1="298.5" y1="406.5" x2="313.5" y2="406.5" stroke="#5a5ad0" stroke-width="1.3"/>
<text x="316.5" y="408.6" font-size="6" text-anchor="start" fill="#1e1e1e" stroke="#1e1e1e" stroke-width="0.22" font-weight="bold" class="t" >SOH 40 %</text>
<rect x="372" y="435.5" width="71.6" height="52.4" fill="#fff" stroke="#d5d5d5" stroke-width="0.8"/>
<text x="370" y="438.4" font-size="3.8" text-anchor="end" fill="#1e1e1e" stroke="#1e1e1e" stroke-width="0.22" font-weight="bold" class="t" >300</text>
<text x="370" y="454.4" font-size="3.8" text-anchor="end" fill="#1e1e1e" stroke="#1e1e1e" stroke-width="0.22" font-weight="bold" class="t" >280</text>
<text x="370" y="471.4" font-size="3.8" text-anchor="end" fill="#1e1e1e" stroke="#1e1e1e" stroke-width="0.22" font-weight="bold" class="t" >260</text>
<text x="370" y="488.09999999999997" font-size="3.8" text-anchor="end" fill="#1e1e1e" stroke="#1e1e1e" stroke-width="0.22" font-weight="bold" class="t" >240</text>
<text x="372" y="493.5" font-size="3.8" text-anchor="middle" fill="#1e1e1e" stroke="#1e1e1e" stroke-width="0.22" font-weight="bold" class="t" >40</text>
<text x="400.7" y="493.5" font-size="3.8" text-anchor="middle" fill="#1e1e1e" stroke="#1e1e1e" stroke-width="0.22" font-weight="bold" class="t" >60</text>
<text x="428.6" y="493.5" font-size="3.8" text-anchor="middle" fill="#1e1e1e" stroke="#1e1e1e" stroke-width="0.22" font-weight="bold" class="t" >70</text>
<polyline points="377.8,488.0 378.8,487.8 380.1,487.6 381.7,487.3 383.3,486.9 384.8,486.5 386.2,486.0 387.7,485.5 389.1,485.0 390.5,484.3 391.8,483.5 393.0,482.6 394.1,481.7 395.1,480.6 396.0,479.4 396.8,478.0 397.5,476.3 398.0,474.4 398.5,472.4 398.9,470.2 399.3,468.0 399.7,465.7 400.0,463.2 400.2,460.8 400.5,458.3 400.8,456.0 401.2,453.7 401.6,451.4 402.0,449.2 402.4,447.3 402.6,446.0 405.4,447.7 408.2,449.3 411.0,450.8 413.8,452.3 416.6,453.8 419.4,455.2 422.2,456.6 425.0,457.9 427.8,459.2" fill="none" stroke="#a8b0a0" stroke-width="2.0" stroke-linejoin="round" stroke-linecap="round" />
<polyline points="379.0,488.0 380.0,487.8 381.3,487.6 382.9,487.3 384.5,486.9 386.0,486.5 387.4,486.0 388.9,485.5 390.3,485.0 391.7,484.3 393.0,483.5 394.2,482.6 395.3,481.7 396.3,480.6 397.2,479.4 398.0,478.0 398.7,476.3 399.2,474.4 399.7,472.4 400.1,470.2 400.5,468.0 400.9,465.7 401.2,463.2 401.4,460.8 401.7,458.3 402.0,456.0 402.4,453.7 402.8,451.4 403.2,449.2 403.6,447.3 403.8,446.0 406.6,447.7 409.4,449.3 412.2,450.8 415.0,452.3 417.8,453.8 420.6,455.2 423.4,456.6 426.2,457.9 429.0,459.2 431.8,460.4 434.6,461.6 437.4,462.8 440.2,464.0 443.0,465.1" fill="none" stroke="#3a3a48" stroke-width="1.3" stroke-linejoin="round" stroke-linecap="round" />
<line x1="387" y1="467" x2="413" y2="467" stroke="#f4d09a" stroke-width="1"/>
<line x1="391" y1="463.5" x2="391" y2="470.5" stroke="#f4d09a" stroke-width="1"/>
<text x="411" y="477" font-size="5.6" text-anchor="start" fill="#1e1e1e" stroke="#1e1e1e" stroke-width="0.22" font-weight="bold" class="t" textLength="35" lengthAdjust="spacingAndGlyphs">Degradation</text>
</g>
<g id="c6">
<rect x="495" y="381.4" width="160" height="116.2" fill="none" stroke="#cccccc" stroke-width="1"/>
<text x="492.5" y="393.4" font-size="4.8" text-anchor="end" fill="#1e1e1e" stroke="#1e1e1e" stroke-width="0.22" font-weight="bold" class="t" >40</text>
<text x="492.5" y="406.2" font-size="4.8" text-anchor="end" fill="#1e1e1e" stroke="#1e1e1e" stroke-width="0.22" font-weight="bold" class="t" >35</text>
<text x="492.5" y="419.5" font-size="4.8" text-anchor="end" fill="#1e1e1e" stroke="#1e1e1e" stroke-width="0.22" font-weight="bold" class="t" >30</text>
<text x="492.5" y="433.09999999999997" font-size="4.8" text-anchor="end" fill="#1e1e1e" stroke="#1e1e1e" stroke-width="0.22" font-weight="bold" class="t" >25</text>
<text x="492.5" y="445.9" font-size="4.8" text-anchor="end" fill="#1e1e1e" stroke="#1e1e1e" stroke-width="0.22" font-weight="bold" class="t" >20</text>
<text x="492.5" y="459.3" font-size="4.8" text-anchor="end" fill="#1e1e1e" stroke="#1e1e1e" stroke-width="0.22" font-weight="bold" class="t" >15</text>
<text x="492.5" y="472.3" font-size="4.8" text-anchor="end" fill="#1e1e1e" stroke="#1e1e1e" stroke-width="0.22" font-weight="bold" class="t" >10</text>
<text x="492.5" y="485.7" font-size="4.8" text-anchor="end" fill="#1e1e1e" stroke="#1e1e1e" stroke-width="0.22" font-weight="bold" class="t" >5</text>
<text x="492.5" y="498.5" font-size="4.8" text-anchor="end" fill="#1e1e1e" stroke="#1e1e1e" stroke-width="0.22" font-weight="bold" class="t" >0</text>
<text x="495.5" y="504" font-size="5.6" text-anchor="middle" fill="#1e1e1e" stroke="#1e1e1e" stroke-width="0.22" font-weight="bold" class="t" >0.88</text>
<text x="526.8" y="504" font-size="5.6" text-anchor="middle" fill="#1e1e1e" stroke="#1e1e1e" stroke-width="0.22" font-weight="bold" class="t" >0.90</text>
<text x="558.4" y="504" font-size="5.6" text-anchor="middle" fill="#1e1e1e" stroke="#1e1e1e" stroke-width="0.22" font-weight="bold" class="t" >0.92</text>
<text x="588.8" y="504" font-size="5.6" text-anchor="middle" fill="#1e1e1e" stroke="#1e1e1e" stroke-width="0.22" font-weight="bold" class="t" >0.94</text>
<text x="619.2" y="504" font-size="5.6" text-anchor="middle" fill="#1e1e1e" stroke="#1e1e1e" stroke-width="0.22" font-weight="bold" class="t" >0.96</text>
<text x="650.8" y="504" font-size="5.6" text-anchor="middle" fill="#1e1e1e" stroke="#1e1e1e" stroke-width="0.22" font-weight="bold" class="t" >0.98</text>
<text x="575.5" y="512.3" font-size="6.2" text-anchor="middle" fill="#2a2a2a" stroke="#2a2a2a" stroke-width="0.22" font-weight="bold" class="t" textLength="14" lengthAdjust="spacingAndGlyphs">SOH</text>
<text x="478.5" y="442" font-size="5.6" text-anchor="middle" fill="#2a2a2a" stroke="#2a2a2a" stroke-width="0.22" font-weight="bold" class="t" transform="rotate(-90 478.5 442)" textLength="47" lengthAdjust="spacingAndGlyphs">Swelling (μm)</text>
<polyline points="494.5,455.0 495.9,454.2 498.0,453.1 500.0,452.0 501.9,451.1 503.9,450.2 505.6,449.3 506.9,448.2 508.0,447.1 509.0,446.0 509.9,445.0 510.8,444.0 512.0,442.8 513.9,441.3 516.1,439.6 518.5,438.0 520.9,436.7 523.4,435.6 526.0,434.5 528.8,433.4 531.8,432.4 534.7,431.5 537.5,430.6 540.3,429.8 543.0,429.0 545.8,428.2 548.6,427.4 551.0,426.6 553.0,425.9 554.6,425.2 556.0,424.5 557.1,423.5 558.1,422.5 559.0,421.8 559.9,421.8 560.9,422.1 562.0,422.5 563.4,422.9 565.0,423.3 567.0,423.4 569.4,422.8 572.2,421.9 575.0,421.0 577.6,420.2 580.3,419.3 583.0,418.5 586.0,417.8 589.0,417.1 592.0,416.5 594.7,415.8 597.4,415.2 600.0,414.5 602.7,413.8 605.4,413.2 608.0,412.5 610.5,411.9 612.9,411.2 615.6,410.5 618.6,409.6 621.8,408.5 625.0,407.5 628.3,406.5 631.6,405.5 635.0,404.5 638.3,403.5 641.7,402.5 645.0,401.5 648.7,400.4 652.4,399.3 655.0,398.5" fill="none" stroke="#303038" stroke-width="1.1" stroke-linejoin="round" stroke-linecap="round" />
<polyline points="494.5,497.5 495.9,496.2 497.9,494.4 500.0,492.5 502.0,490.7 504.0,488.8 506.0,487.0 508.0,485.2 510.0,483.4 512.0,481.7 514.1,480.2 516.2,478.9 518.5,477.8 520.9,476.9 523.4,476.2 526.0,475.5 528.8,474.7 531.8,473.9 534.7,473.0 537.5,472.0 540.3,471.0 543.0,470.0 545.8,469.0 548.6,468.0 551.0,467.0 553.0,466.1 554.6,465.3 556.0,464.5 557.1,463.4 558.1,462.3 559.0,461.6 559.9,461.7 560.9,462.4 562.0,463.0 563.4,463.6 565.0,464.3 567.0,464.5 569.4,463.9 572.2,462.9 575.0,461.8 577.6,460.9 580.3,459.9 583.0,459.0 586.0,458.1 589.0,457.3 592.0,456.5 594.7,455.7 597.4,454.8 600.0,454.0 602.7,453.2 605.4,452.3 608.0,451.5 610.5,450.8 612.9,450.1 615.6,449.3 618.6,448.3 621.8,447.1 625.0,446.0 628.3,445.0 631.6,444.0 635.0,443.0 638.3,442.0 641.7,441.0 645.0,440.0 648.7,439.0 652.4,438.0 655.0,437.3" fill="none" stroke="#ea8090" stroke-width="1.1" stroke-linejoin="round" stroke-linecap="round" />
<line x1="598" y1="475" x2="609" y2="475" stroke="#303038" stroke-width="1.1"/>
<text x="610" y="477" font-size="5.6" text-anchor="start" fill="#1e1e1e" stroke="#1e1e1e" stroke-width="0.22" font-weight="bold" class="t" >SOH. Swelling</text>
<line x1="598" y1="483.3" x2="609" y2="483.3" stroke="#e8788a" stroke-width="1.1"/>
<text x="610" y="485.3" font-size="5.6" text-anchor="start" fill="#1e1e1e" stroke="#1e1e1e" stroke-width="0.22" font-weight="bold" class="t" >SOH. Swelling</text>
</g>
<g id="c4">
<rect x="89.9" y="374" width="5.2" height="122" fill="#faf2d0"/>
<rect x="91.3" y="374" width="2.4" height="122" fill="#f2e092"/>
<rect x="124.4" y="374" width="5.2" height="122" fill="#faf2d0"/>
<rect x="125.8" y="374" width="2.4" height="122" fill="#f2e092"/>
<rect x="158.4" y="374" width="5.2" height="122" fill="#faf2d0"/>
<rect x="159.8" y="374" width="2.4" height="122" fill="#f2e092"/>
<rect x="181.4" y="374" width="5.2" height="122" fill="#faf2d0"/>
<rect x="182.8" y="374" width="2.4" height="122" fill="#f2e092"/>
<rect x="79" y="380" width="130" height="104.6" fill="none" stroke="#d4d4d4" stroke-width="0.9"/>
<text x="76.5" y="381.7" font-size="4.6" text-anchor="end" fill="#1e1e1e" stroke="#1e1e1e" stroke-width="0.22" font-weight="bold" class="t" >350</text>
<text x="76.5" y="396.3" font-size="4.6" text-anchor="end" fill="#1e1e1e" stroke="#1e1e1e" stroke-width="0.22" font-weight="bold" class="t" >300</text>
<text x="76.5" y="411.0" font-size="4.6" text-anchor="end" fill="#1e1e1e" stroke="#1e1e1e" stroke-width="0.22" font-weight="bold" class="t" >250</text>
<text x="76.5" y="426.2" font-size="4.6" text-anchor="end" fill="#1e1e1e" stroke="#1e1e1e" stroke-width="0.22" font-weight="bold" class="t" >200</text>
<text x="76.5" y="440.9" font-size="4.6" text-anchor="end" fill="#1e1e1e" stroke="#1e1e1e" stroke-width="0.22" font-weight="bold" class="t" >150</text>
<text x="76.5" y="456.09999999999997" font-size="4.6" text-anchor="end" fill="#1e1e1e" stroke="#1e1e1e" stroke-width="0.22" font-weight="bold" class="t" >100</text>
<text x="76.5" y="471.2" font-size="4.6" text-anchor="end" fill="#1e1e1e" stroke="#1e1e1e" stroke-width="0.22" font-weight="bold" class="t" >50</text>
<text x="76.5" y="486.3" font-size="4.6" text-anchor="end" fill="#1e1e1e" stroke="#1e1e1e" stroke-width="0.22" font-weight="bold" class="t" >0</text>
<text x="78.6" y="491" font-size="5.4" text-anchor="middle" fill="#1e1e1e" stroke="#1e1e1e" stroke-width="0.22" font-weight="bold" class="t" >0</text>
<text x="94.35" y="491" font-size="5.4" text-anchor="middle" fill="#1e1e1e" stroke="#1e1e1e" stroke-width="0.22" font-weight="bold" class="t" >20</text>
<text x="110.1" y="491" font-size="5.4" text-anchor="middle" fill="#1e1e1e" stroke="#1e1e1e" stroke-width="0.22" font-weight="bold" class="t" >40</text>
<text x="125.85" y="491" font-size="5.4" text-anchor="middle" fill="#1e1e1e" stroke="#1e1e1e" stroke-width="0.22" font-weight="bold" class="t" >60</text>
<text x="141.6" y="491" font-size="5.4" text-anchor="middle" fill="#1e1e1e" stroke="#1e1e1e" stroke-width="0.22" font-weight="bold" class="t" >80</text>
<text x="157.35" y="491" font-size="5.4" text-anchor="middle" fill="#1e1e1e" stroke="#1e1e1e" stroke-width="0.22" font-weight="bold" class="t" >100</text>
<text x="173.1" y="491" font-size="5.4" text-anchor="middle" fill="#1e1e1e" stroke="#1e1e1e" stroke-width="0.22" font-weight="bold" class="t" >120</text>
<text x="188.85" y="491" font-size="5.4" text-anchor="middle" fill="#1e1e1e" stroke="#1e1e1e" stroke-width="0.22" font-weight="bold" class="t" >140</text>
<text x="204.6" y="491" font-size="5.4" text-anchor="middle" fill="#1e1e1e" stroke="#1e1e1e" stroke-width="0.22" font-weight="bold" class="t" >160</text>
<text x="142.3" y="497.5" font-size="5.6" text-anchor="middle" fill="#2a2a2a" stroke="#2a2a2a" stroke-width="0.22" font-weight="bold" class="t" textLength="28.5" lengthAdjust="spacingAndGlyphs">Time (min.)</text>
<text x="63.3" y="432.7" font-size="5.2" text-anchor="middle" fill="#2a2a2a" stroke="#2a2a2a" stroke-width="0.22" font-weight="bold" class="t" transform="rotate(-90 63.3 432.7)" textLength="44" lengthAdjust="spacingAndGlyphs">Temperature (°C)</text>
<polyline points="79.0,477.0 79.6,476.7 80.5,476.3 81.5,475.9 82.7,475.4 84.0,475.0 85.3,474.6 86.7,474.3 88.3,474.0 90.0,473.7 92.0,473.5 94.2,473.4 96.7,473.3 99.4,473.3 102.2,473.3 105.0,473.3 108.0,473.3 111.2,473.3 114.5,473.3 117.5,473.3 120.0,473.3 121.9,473.3 123.4,473.3 124.7,473.2 125.8,473.1 127.0,472.8 128.2,472.4 129.4,471.8 130.6,471.2 131.8,470.4 133.0,469.5 134.4,468.4 135.8,467.2 137.3,465.9 138.7,464.4 140.0,463.0 141.1,461.5 142.1,459.9 143.1,458.3 144.0,456.7 145.0,455.0 146.0,453.3 147.1,451.6 148.1,449.9 149.2,448.2 150.2,446.5 151.2,444.8 152.1,443.2 153.1,441.5 154.0,440.0 155.0,438.5 156.0,437.1 157.1,435.8 158.2,434.5 159.3,433.4 160.3,432.4 161.3,431.6 162.2,431.0 163.1,430.5 164.0,430.0 165.0,429.5 166.0,429.0 167.1,428.6 168.1,428.2 169.2,427.8 170.3,427.3 171.4,426.8 172.6,426.2 173.8,425.7 174.9,425.1 176.0,424.5 177.0,424.0 178.1,423.5 179.0,423.0 179.9,422.4 180.6,421.5 181.1,420.4 181.5,419.2 181.7,417.7 182.0,416.0 182.2,414.0 182.5,411.3 182.8,408.0 183.0,404.6 183.2,401.6 183.4,399.5 185.2,406.2 187.1,411.1 188.9,414.8 190.7,417.5 192.5,419.4 194.4,420.9 196.2,422.0 198.0,422.8 199.9,423.4 201.7,423.8 203.5,424.1 205.3,424.3 207.2,424.5 209.0,424.6" fill="none" stroke="#5a6656" stroke-width="1.1" stroke-linejoin="round" stroke-linecap="round" />
<polyline points="128.0,469.0 135.0,457.0 142.0,445.0 150.0,433.0 157.0,423.6 165.0,418.0 173.0,414.0 181.0,411.0" fill="none" stroke="#b8c0b0" stroke-width="1.0" stroke-linejoin="round" stroke-linecap="round" stroke-dasharray="0.8,2.2"/>
<polyline points="140.0,455.0 148.0,443.0 156.0,433.0 164.0,425.0 172.0,419.0 180.0,413.0" fill="none" stroke="#f0c0a0" stroke-width="1.0" stroke-linejoin="round" stroke-linecap="round" stroke-dasharray="0.8,2.2"/>
<line x1="85" y1="385.5" x2="94" y2="385.5" stroke="#aac0a0" stroke-width="0.9"/>
<text x="96.5" y="387.0" font-size="4.3" text-anchor="start" fill="#444" stroke="#444" stroke-width="0.22" font-weight="normal" class="t" >Oven temperature</text>
<line x1="85" y1="391.8" x2="94" y2="391.8" stroke="#f0b090" stroke-width="0.9"/>
<text x="96.5" y="393.3" font-size="4.3" text-anchor="start" fill="#444" stroke="#444" stroke-width="0.22" font-weight="normal" class="t" >Experiment</text>
<line x1="85" y1="398.1" x2="94" y2="398.1" stroke="#556050" stroke-width="0.9"/>
<text x="96.5" y="399.6" font-size="4.3" text-anchor="start" fill="#444" stroke="#444" stroke-width="0.22" font-weight="normal" class="t" >Prediction</text>
<g fill="none" stroke="#d8a47c" stroke-width="1.6">
<polyline points="32,378 32,365.3 92.5,365.3 92.5,374"/>
<polyline points="127,374 127,365.3 232,365.3 232,378"/>
<polyline points="32,496 32,510 161,510 161,496"/>
<polyline points="184,496 184,510 231.5,510 231.5,496"/>
</g>
<path d="M90.5,371.5 L92.5,376 L94.5,371.5 Z M125,371.5 L127,376 L129,371.5 Z" fill="#d8a47c"/>
<defs>
<linearGradient id="cylA" x1="0" y1="0" x2="1" y2="0"><stop offset="0" stop-color="#f0a030"/><stop offset="0.1" stop-color="#f8d070"/><stop offset="0.17" stop-color="#e8a850"/><stop offset="0.23" stop-color="#a01808"/><stop offset="0.55" stop-color="#8a1000"/><stop offset="0.72" stop-color="#801000"/><stop offset="0.8" stop-color="#f0d8b0"/><stop offset="1" stop-color="#fffaf0"/></linearGradient>
<linearGradient id="cylB" x1="0" y1="0" x2="1" y2="0"><stop offset="0" stop-color="#8a4008"/><stop offset="0.08" stop-color="#d08020"/><stop offset="0.2" stop-color="#f8d060"/><stop offset="0.3" stop-color="#fff8d8"/><stop offset="0.5" stop-color="#fff0b0"/><stop offset="0.62" stop-color="#f0c050"/><stop offset="0.7" stop-color="#a03008"/><stop offset="0.82" stop-color="#5a0800"/><stop offset="0.9" stop-color="#f0e0d0"/><stop offset="1" stop-color="#ffffff"/></linearGradient>
<linearGradient id="cylC" x1="0" y1="0" x2="1" y2="0"><stop offset="0" stop-color="#f8c050"/><stop offset="0.1" stop-color="#f0a030"/><stop offset="0.19" stop-color="#c02010"/><stop offset="0.55" stop-color="#b01008"/><stop offset="0.7" stop-color="#901000"/><stop offset="0.78" stop-color="#f0c890"/><stop offset="0.9" stop-color="#fff0c0"/><stop offset="1" stop-color="#fffaf0"/></linearGradient>
<linearGradient id="cylD" x1="0" y1="0" x2="1" y2="0"><stop offset="0" stop-color="#fff"/><stop offset="0.08" stop-color="#b87070"/><stop offset="0.16" stop-color="#e8c8c0"/><stop offset="0.25" stop-color="#fffaf6"/><stop offset="0.6" stop-color="#fff6ee"/><stop offset="0.72" stop-color="#702020"/><stop offset="0.86" stop-color="#3a0000"/><stop offset="1" stop-color="#fff"/></linearGradient>
</defs>
<path d="M22,382 Q32.2,379.5 42.5,382 L42.5,433 Q32.2,436.5 22,433 Z" fill="url(#cylA)"/>
<path d="M19.2,447 Q31.6,440 44,447 L44,494 Q31.6,497.5 19.2,494 Z" fill="url(#cylB)"/>
<path d="M221,383 Q232,380.5 243,383 L243,433 Q232,436.5 221,433 Z" fill="url(#cylC)"/>
<path d="M217.7,446 Q228.6,438 239.5,446 L239.5,493 Q228.6,497 217.7,493 Z" fill="url(#cylD)"/>
<path d="M218.5,447 Q228.6,441 238.7,447" fill="none" stroke="#a05050" stroke-width="0.8"/>
</g>
<g id="batt">
<path d="M300.5,194 L300.5,244 A8.5,3.4000000000000004 0 0 0 317.5,244 L317.5,194 Z" fill="url(#blueCyl)"/>
<ellipse cx="309.0" cy="194" rx="8.5" ry="3.4000000000000004" fill="#2f55ea"/>
<ellipse cx="309.0" cy="194.51" rx="6.375" ry="2.108" fill="#0a1f80"/>
<path d="M317,212 C314,198 320,188 318,176 C321,182 323,188 323,192 C325,180 324,168 321,156 C329,170 333,184 332,196 C334,192 335,188 335,184 C339,194 338,206 333,214 Z" fill="url(#flame)"/>
<path d="M322,200 C320,190 323,180 322,168 C327,178 329,190 327,202 Z" fill="#ffe458" opacity="0.8"/>
<path d="M313.5,204 L333,210 L333,252 L313.5,252 Z" fill="url(#redCyl)"/>
<path d="M313.5,205 L313.5,252 A8.5,3.4000000000000004 0 0 0 330.5,252 L330.5,205 Z" fill="url(#redCyl)"/>
<ellipse cx="322.0" cy="205" rx="8.5" ry="3.4000000000000004" fill="#ff3838"/>
<ellipse cx="322.0" cy="205.51" rx="6.375" ry="2.108" fill="#a00010"/>
<path d="M321,216 L321,262 A9.5,3.8000000000000003 0 0 0 340,262 L340,216 Z" fill="url(#blueCyl)"/>
<ellipse cx="330.5" cy="216" rx="9.5" ry="3.8000000000000003" fill="#2f55ea"/>
<ellipse cx="330.5" cy="216.57" rx="7.125" ry="2.3560000000000003" fill="#0a1f80"/>
<path d="M328,223 L328,269 A12.0,4.32 0 0 0 352,269 L352,223 Z" fill="url(#blueCyl)"/>
<ellipse cx="340.0" cy="223" rx="12.0" ry="4.32" fill="#2f55ea"/>
<ellipse cx="340.0" cy="223.648" rx="9.0" ry="2.6784000000000003" fill="#0a1f80"/>
<text x="0" y="0" font-size="3" fill="#cfe" class="t" transform="translate(347.5,264) rotate(-90)">LFP 26650 Battery</text>
<path d="M358,224 L375,224 L375,219 L386.5,231.5 L375,244 L375,238.5 L358,238.5 Z" fill="url(#midArr)"/>
<path d="M389.6,193 L389.6,235 A6.5,2.86 0 0 0 402.6,235 L402.6,193 Z" fill="url(#purCyl)"/>
<ellipse cx="396.1" cy="193" rx="6.5" ry="2.86" fill="#7a2a98"/>
<ellipse cx="396.1" cy="193.429" rx="4.875" ry="1.7731999999999999" fill="#3a0a50"/>
<path d="M395,196 L431,206 L431,250 L419,260 L395,236 Z" fill="url(#redCyl)"/>
<path d="M400,206 C397,192 403,180 401,168 C405,174 407,180 407,186 C409,174 408,164 406,154 C414,166 418,180 417,194 C420,186 421,178 420,170 C428,184 429,202 425,214 Z" fill="url(#flame)"/>
<path d="M405,198 C403,186 407,174 406,162 C412,172 415,184 413,198 Z" fill="#ffe458" opacity="0.85"/>
<path d="M415,200 C414,190 418,182 418,174 C422,182 424,192 421,204 Z" fill="#ffd040" opacity="0.7"/>
<path d="M416.5,222 L416.5,268 A11.5,3.68 0 0 0 439.5,268 L439.5,222 Z" fill="url(#purCyl)"/>
<ellipse cx="428.0" cy="222" rx="11.5" ry="3.68" fill="#7a2a98"/>
<ellipse cx="428.0" cy="222.552" rx="8.625" ry="2.2816" fill="#3a0a50"/>
<text x="0" y="0" font-size="3" fill="#dcf" class="t" transform="translate(436,263) rotate(-90)">LFP 26650 Battery</text>
</g>
<text x="25" y="260.6" class="t" font-size="13.6" fill="#2a2a2a" stroke="#2a2a2a" stroke-width="0.35">Operational dependency</text>
<text x="562" y="285.5" class="t" font-size="13.4" fill="#2a2a2a" stroke="#2a2a2a" stroke-width="0.35">Dimensional effects</text>
<text x="328.5" y="533" class="t" font-size="13.4" fill="#2a2a2a" stroke="#2a2a2a" stroke-width="0.35">Aging effects</text>

</g>
<g fill="#000"><rect x="0" y="0" width="711" height="13"/><rect x="0" y="0" width="13" height="546"/><rect x="698" y="0" width="13" height="546"/><rect x="0" y="533" width="711" height="13"/></g>
</svg>
</body></html>
